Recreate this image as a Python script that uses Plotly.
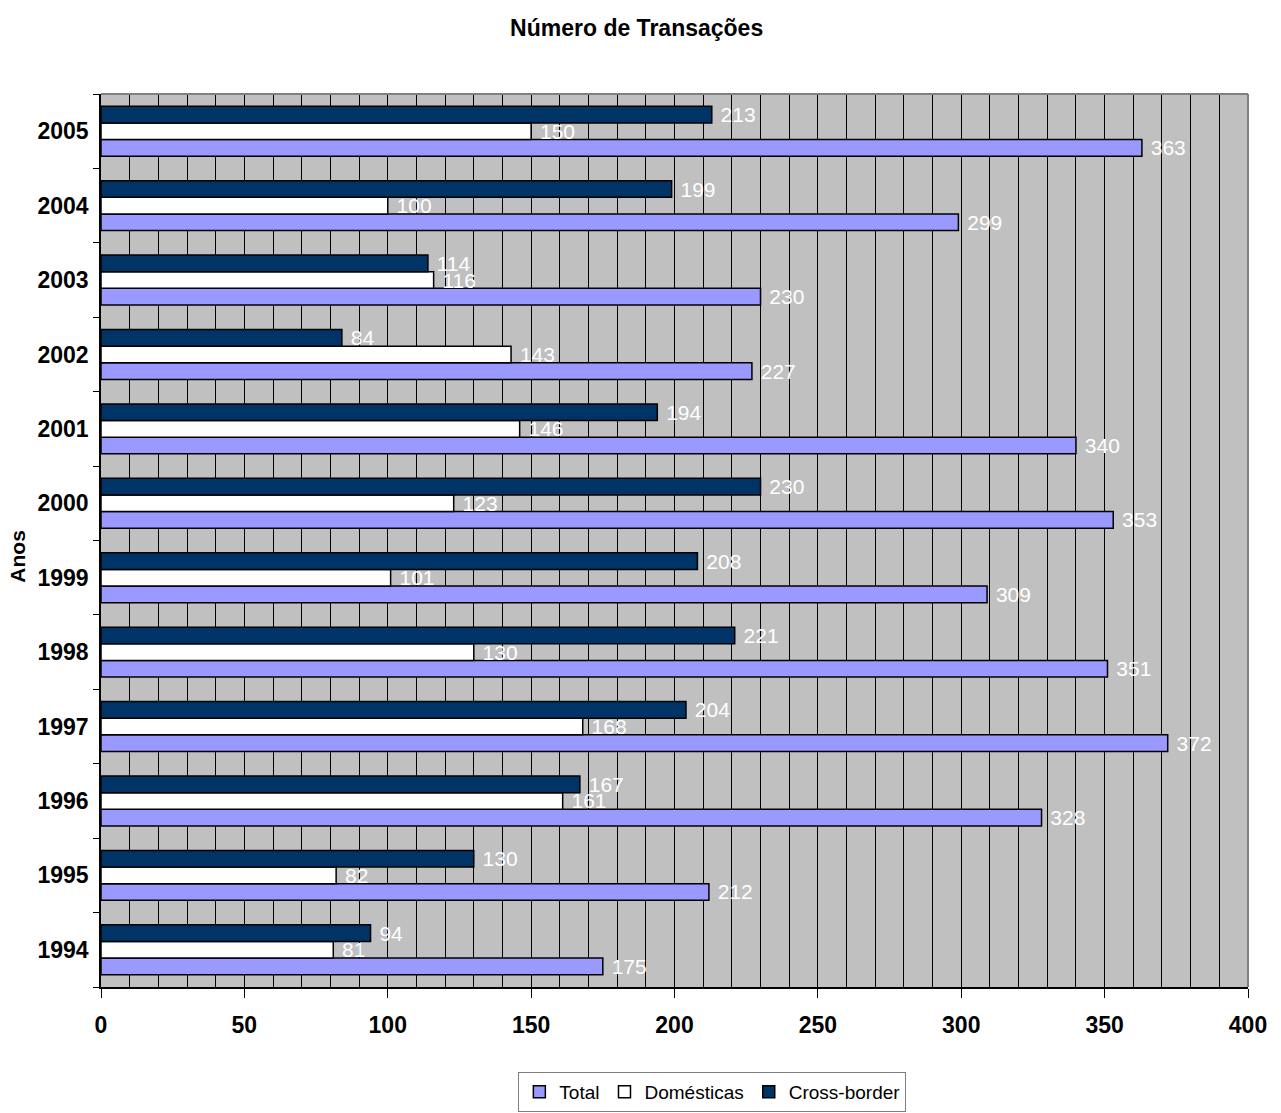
import plotly.graph_objects as go

# Annual transaction counts, 1994-2005
anos = ["1994", "1995", "1996", "1997", "1998", "1999",
        "2000", "2001", "2002", "2003", "2004", "2005"]
total = [175, 212, 328, 372, 351, 309, 353, 340, 227, 230, 299, 363]
domesticas = [81, 82, 161, 168, 130, 101, 123, 146, 143, 116, 100, 150]
cross_border = [94, 130, 167, 204, 221, 208, 230, 194, 84, 114, 199, 213]

FONT = "Liberation Sans, Arial, sans-serif"

series = [
    ("Total", total, "#9999ff"),
    ("Domésticas", domesticas, "#ffffff"),
    ("Cross-border", cross_border, "#003366"),
]

fig = go.Figure()
for name, vals, color in series:
    fig.add_trace(go.Bar(
        y=anos, x=vals, name=name, orientation="h",
        marker=dict(color=color, line=dict(color="#000000", width=1.5)),
        text=["\u00a0" + str(v) for v in vals], textposition="outside",
        textfont=dict(family=FONT, size=21, color="#ffffff"),
        constraintext="none", cliponaxis=False,
    ))

fig.update_layout(
    width=1281, height=1113,
    margin=dict(l=101, r=33, t=94, b=126, autoexpand=False),
    paper_bgcolor="#ffffff", plot_bgcolor="#c0c0c0",
    barmode="group", bargap=0.33, bargroupgap=0,
    font=dict(family=FONT, color="#000000"),
    title=dict(text="<b>Número de Transações</b>", x=0.497, xref="container",
               y=0.975, yanchor="middle", xanchor="center",
               font=dict(family=FONT, size=23, color="#000000")),
    legend=dict(orientation="h", x=0.533, xanchor="center", y=-0.095, yanchor="top",
                bordercolor="#808080", borderwidth=1, bgcolor="#ffffff",
                font=dict(family=FONT, size=19), traceorder="normal",
                itemwidth=30),
    showlegend=True,
)

fig.update_xaxes(
    range=[0, 400], dtick=50, tick0=0,
    showgrid=True, gridcolor="#000000", gridwidth=1,
    minor=dict(dtick=10, showgrid=True, gridcolor="#000000", gridwidth=1),
    ticks="outside", ticklen=9, tickcolor="#000000",
    showline=True, linecolor="#000000", linewidth=1.5,
    tickfont=dict(family=FONT, size=23, color="#000000"),
    tickprefix="<b>", ticksuffix="</b>", zeroline=False,
    ticklabelstandoff=8,
)
fig.update_yaxes(
    type="category", tickson="boundaries", ticks="outside", ticklen=6,
    tickcolor="#000000", showline=True, linecolor="#000000", linewidth=1.5,
    showgrid=False, tickfont=dict(family=FONT, size=23, color="#000000"),
    tickprefix="<b>", ticksuffix="</b>", ticklabelstandoff=6,
)

# Gray frame on the top and right of the plotting area
fig.add_shape(type="line", xref="paper", yref="paper", x0=0, x1=1, y0=1, y1=1,
              line=dict(color="#808080", width=2))
fig.add_shape(type="line", xref="paper", yref="paper", x0=1, x1=1, y0=0, y1=1,
              line=dict(color="#808080", width=2))

fig.add_annotation(text="<b>Anos</b>", xref="paper", yref="paper",
                   x=-0.0724, y=0.483, xanchor="center", yanchor="middle",
                   textangle=-90, showarrow=False,
                   font=dict(family=FONT, size=21, color="#000000"))

fig.write_html("out.html")
